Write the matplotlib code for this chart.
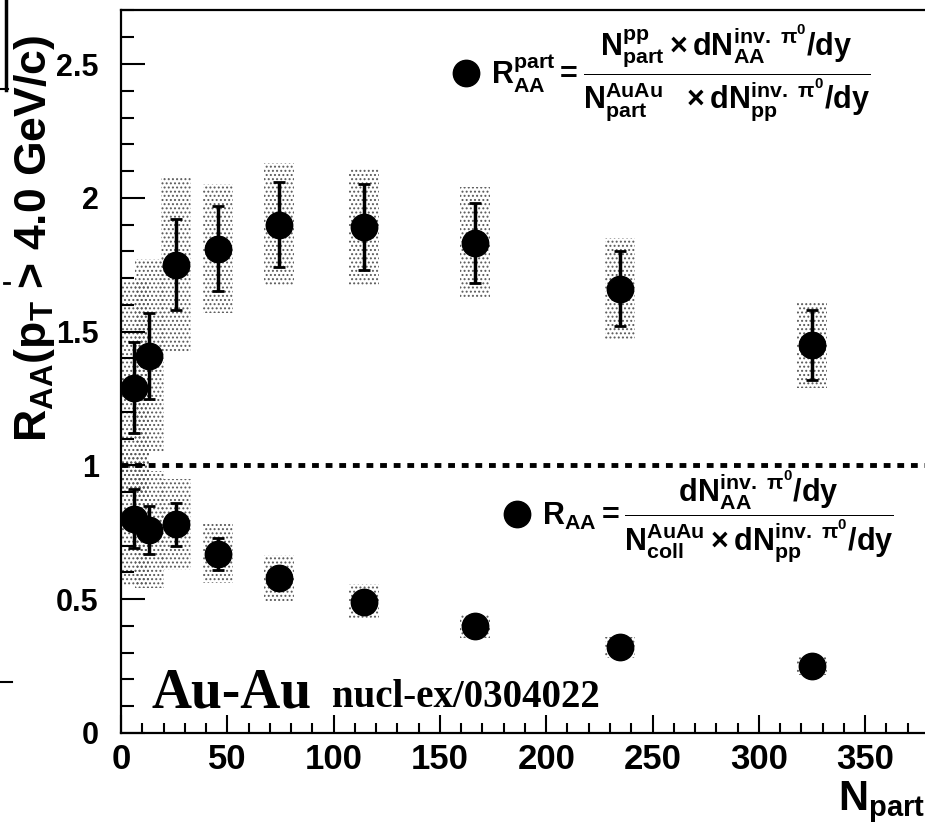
import matplotlib
matplotlib.use("Agg")
import matplotlib.pyplot as plt
from matplotlib.lines import Line2D
from matplotlib.ticker import MultipleLocator

# ---- data -------------------------------------------------------------
n_part = [6.3, 13.4, 25.7, 45.5, 74.4, 114.2, 166.6, 234.6, 325.2]

raa_part = [1.29, 1.41, 1.75, 1.81, 1.90, 1.89, 1.83, 1.66, 1.45]
raa_part_stat = [0.17, 0.16, 0.17, 0.16, 0.16, 0.16, 0.15, 0.14, 0.13]
raa_part_syst = [0.40, 0.36, 0.33, 0.24, 0.23, 0.22, 0.21, 0.19, 0.16]

raa_coll = [0.80, 0.76, 0.78, 0.67, 0.58, 0.49, 0.40, 0.32, 0.25]
raa_coll_stat = [0.11, 0.09, 0.08, 0.06, 0.04, 0.03, 0.03, 0.02, 0.02]
raa_coll_syst = [0.25, 0.22, 0.17, 0.11, 0.085, 0.065, 0.045, 0.04, 0.035]

x_ticks = [0, 50, 100, 150, 200, 250, 300, 350]
x_ticklabels = ["0", "50", "100", "150", "200", "250", "300", "350"]
y_ticks = [0, 0.5, 1, 1.5, 2, 2.5]
y_ticklabels = ["0", "0.5", "1", "1.5", "2", "2.5"]

# ---- style ------------------------------------------------------------
plt.rcParams["font.family"] = ["Liberation Sans", "DejaVu Sans"]
plt.rcParams["font.weight"] = "bold"
plt.rcParams["mathtext.fontset"] = "custom"
for key in ("rm", "it", "bf", "sf"):
    plt.rcParams["mathtext." + key] = "Liberation Sans:bold"
plt.rcParams["mathtext.default"] = "rm"
plt.rcParams["hatch.linewidth"] = 0.9

W, H = 925, 832
fig = plt.figure(figsize=(W / 100, H / 100), dpi=100)
x0, x1, y0, y1 = 121, 925, 733, 10
ax = fig.add_axes([x0 / W, 1 - y0 / H, (x1 - x0) / W, (y0 - y1) / H])

px_per_unit_x = 106.3 / 50
px_per_unit_y = 267.6
ax.set_xlim(0, (x1 - x0) / px_per_unit_x)
ax.set_ylim(0, (y0 - y1) / px_per_unit_y)

# systematic bands (stippled boxes)
band_w = 14
for vals, syst in ((raa_part, raa_part_syst), (raa_coll, raa_coll_syst)):
    ax.bar(n_part, [2 * s for s in syst], bottom=[v - s for v, s in zip(vals, syst)],
           width=band_w, fill=False, hatch="....", edgecolor="0.35",
           linewidth=0, zorder=1)

# unity reference line
ax.axhline(1.0, color="k", lw=3.5, ls=(0, (1.4, 1.4)), zorder=2)

# data points with statistical errors
for vals, stat in ((raa_part, raa_part_stat), (raa_coll, raa_coll_stat)):
    ax.errorbar(n_part, vals, yerr=stat, fmt="o", ms=19, color="k",
                ecolor="k", elinewidth=2.5, capsize=4, capthick=2, zorder=3)

# axes frame and ticks
for side in ("left", "bottom", "top"):
    ax.spines[side].set_linewidth(1.6)
ax.spines["right"].set_visible(False)
ax.set_xticks(x_ticks)
ax.set_xticklabels(x_ticklabels, family=["Liberation Sans Narrow", "Liberation Sans"],
                   fontsize=25, weight="bold")
ax.set_yticks(y_ticks)
ax.set_yticklabels(y_ticklabels, fontsize=22, weight="bold")
ax.xaxis.set_minor_locator(MultipleLocator(10))
ax.yaxis.set_minor_locator(MultipleLocator(0.1))
ax.tick_params(axis="both", which="both", direction="in", width=1.5)
ax.tick_params(axis="x", which="major", length=13, pad=7)
ax.tick_params(axis="x", which="minor", length=7)
ax.tick_params(axis="y", which="major", length=17, pad=16)
ax.tick_params(axis="y", which="minor", length=9)

# formulas as legend entries
dot = Line2D([], [], marker="o", ls="none", color="k", ms=19)
f_part = (r"$R_{AA}^{part} = \dfrac{N_{part}^{pp}\times dN_{AA}^{inv.\ \pi^{0}}/dy}"
          r"{N_{part}^{AuAu}\ \ \times dN_{pp}^{inv.\ \pi^{0}}/dy}$")
f_coll = (r"$R_{AA} = \dfrac{dN_{AA}^{inv.\ \pi^{0}}/dy}"
          r"{N_{coll}^{AuAu}\times dN_{pp}^{inv.\ \pi^{0}}/dy}$")
leg_kw = dict(loc="center left", frameon=False, fontsize=22, handlelength=0.85,
              handletextpad=0.4, borderpad=0, borderaxespad=0)
leg1 = ax.legend([dot], [f_part], bbox_to_anchor=(0.413, 0.913), **leg_kw)
ax.add_artist(leg1)
ax.legend([dot], [f_coll], bbox_to_anchor=(0.476, 0.300), **leg_kw)

# axis titles
fig.text(925 / W, 1 - 810 / H, r"$N_{part}$", fontsize=30, ha="right",
         va="baseline")
fig.text(12 / W, 1 - 442 / H, r"$R_{AA}(p_{T}$ > 4.0 GeV/c)", fontsize=32,
         rotation=90, ha="left", va="bottom")

# collision system and reference
fig.text(152 / W, 1 - 707 / H, "Au-Au", family="Liberation Serif",
         weight="bold", fontsize=40, va="baseline")
fig.text(332 / W, 1 - 707 / H, "nucl-ex/0304022", family="Liberation Serif",
         weight="bold", fontsize=28, va="baseline")

# edge of a neighbouring panel at the left margin
fig.add_artist(Line2D([6 / W, 6 / W], [1, 1 - 90 / H], color="k", lw=2.5))
fig.add_artist(Line2D([0, 8 / W], [1 - 89 / H, 1 - 89 / H], color="k", lw=1.5))
fig.add_artist(Line2D([4 / W, 9 / W], [1 - 283 / H, 1 - 283 / H], color="k", lw=2))
fig.add_artist(Line2D([0, 12 / W], [1 - 682 / H, 1 - 682 / H], color="k", lw=1.5))

fig.savefig("out.png", dpi=100)
